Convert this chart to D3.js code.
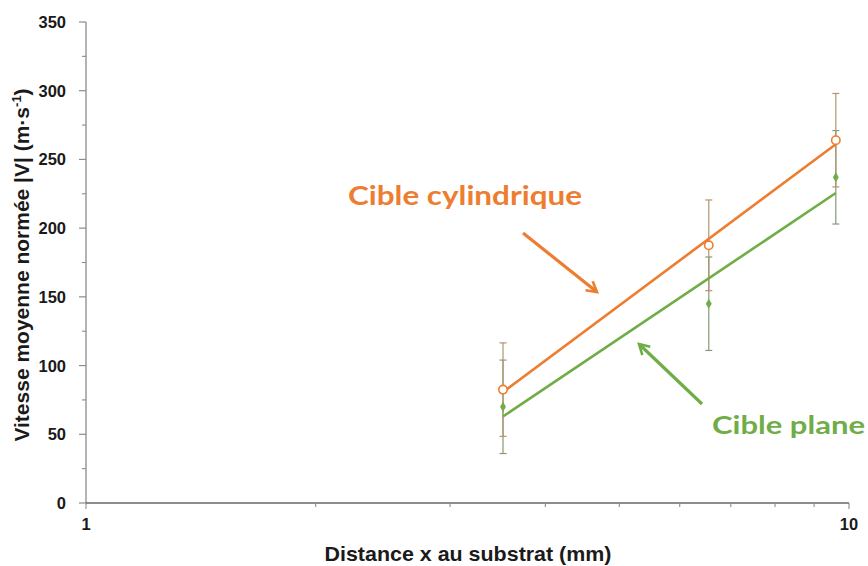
<!DOCTYPE html>
<html>
<head>
<meta charset="utf-8">
<script src="https://cdn.jsdelivr.net/npm/d3@7"></script>
<style>
  html, body { margin: 0; padding: 0; background: #fff; }
  svg { display: block; }
</style>
</head>
<body>
<svg id="chart" width="868" height="566"></svg>
<script>
// Distance to substrate (mm) and normalised mean velocity |V| (m/s)
const distances = [3.52, 6.55, 9.61];
const cylindrique = [82.5, 187.5, 264];
const plane = [70, 145, 237];
const errCylindrique = [34, 33, 34];
const errPlane = [34, 34, 34];
const yTicks = [0, 50, 100, 150, 200, 250, 300, 350];
const xTickLabels = [1, 10];

const orange = "#ED7D31";
const green = "#70AD47";
const orangeErr = "#b39470";
const greenErr = "#879a76";
const axisFont = "Liberation Sans, Arial, sans-serif";

const svg = d3.select("#chart");
const x = d3.scaleLog().domain([1, 10]).range([86, 849]);
const y = d3.scaleLinear().domain([0, 350]).range([503, 22]);

// Y axis: gray line, outward ticks, minor ticks every 25
const yAxis = svg.append("g").attr("transform", "translate(86,0)");
yAxis.append("line").attr("x1", 0).attr("x2", 0).attr("y1", y(350)).attr("y2", y(0))
  .attr("stroke", "#8c8c8c").attr("stroke-width", 1.3);
yAxis.selectAll("line.maj").data(yTicks).join("line").attr("class", "maj")
  .attr("x1", -7).attr("x2", 0).attr("y1", d => y(d)).attr("y2", d => y(d))
  .attr("stroke", "#8c8c8c").attr("stroke-width", 1.2);
yAxis.selectAll("line.min").data(d3.range(25, 350, 50)).join("line").attr("class", "min")
  .attr("x1", -4).attr("x2", 0).attr("y1", d => y(d)).attr("y2", d => y(d))
  .attr("stroke", "#8c8c8c").attr("stroke-width", 1.1);
yAxis.selectAll("text").data(yTicks).join("text")
  .attr("x", -20).attr("y", d => y(d)).attr("dy", "0.36em")
  .attr("text-anchor", "end")
  .attr("font-family", axisFont)
  .attr("font-weight", "bold").attr("font-size", 16.5).attr("fill", "#1a1a1a")
  .text(d => d);

// X axis: log scale with minor ticks at 2..9
const xAxis = svg.append("g").attr("transform", `translate(0,${y(0)})`);
xAxis.append("line").attr("x1", x(1)).attr("x2", x(10)).attr("y1", 0).attr("y2", 0)
  .attr("stroke", "#1a1a1a").attr("stroke-width", 1.2);
xAxis.selectAll("line.tk").data(d3.range(1, 11)).join("line").attr("class", "tk")
  .attr("x1", d => x(d)).attr("x2", d => x(d))
  .attr("y1", 0).attr("y2", d => (d === 1 || d === 10) ? 6 : 4)
  .attr("stroke", "#8c8c8c").attr("stroke-width", 1.1);
xAxis.selectAll("text").data(xTickLabels).join("text")
  .attr("x", d => x(d)).attr("y", 27)
  .attr("text-anchor", "middle")
  .attr("font-family", axisFont)
  .attr("font-weight", "bold").attr("font-size", 16.5).attr("fill", "#1a1a1a")
  .text(d => d);

// Axis titles
svg.append("text").attr("x", 468).attr("y", 561).attr("text-anchor", "middle")
  .attr("font-family", axisFont)
  .attr("font-weight", "bold").attr("font-size", 21).attr("fill", "#1a1a1a")
  .attr("textLength", 287).attr("lengthAdjust", "spacingAndGlyphs")
  .text("Distance x au substrat (mm)");

const yTitle = svg.append("text")
  .attr("transform", "translate(29,265) rotate(-90)")
  .attr("text-anchor", "middle")
  .attr("font-family", axisFont)
  .attr("font-weight", "bold").attr("font-size", 21).attr("fill", "#1a1a1a");
yTitle.append("tspan").text("Vitesse moyenne normée |V| (m·s");
yTitle.append("tspan").attr("dy", -8).attr("font-size", 13).text("-1");
yTitle.append("tspan").attr("dy", 8).text(")");

// Logarithmic trend line (least squares on ln x)
function logFit(xs, ys) {
  const lx = xs.map(Math.log);
  const mx = d3.mean(lx), my = d3.mean(ys);
  const sxy = d3.sum(lx, (v, i) => (v - mx) * (ys[i] - my));
  const sxx = d3.sum(lx, v => (v - mx) ** 2);
  const a = sxy / sxx, b = my - a * mx;
  return v => a * Math.log(v) + b;
}

const series = [
  { vals: plane, err: errPlane, color: green, errColor: greenErr },
  { vals: cylindrique, err: errCylindrique, color: orange, errColor: orangeErr }
];

// Error bars
series.forEach(s => {
  const g = svg.append("g");
  distances.forEach((d, i) => {
    const cx = x(d);
    const lo = y(s.vals[i] - s.err[i]), hi = y(s.vals[i] + s.err[i]);
    g.append("line").attr("x1", cx).attr("x2", cx).attr("y1", lo).attr("y2", hi)
      .attr("stroke", s.errColor).attr("stroke-width", 1.2);
    [lo, hi].forEach(yy => g.append("line")
      .attr("x1", cx - 3.5).attr("x2", cx + 3.5).attr("y1", yy).attr("y2", yy)
      .attr("stroke", s.errColor).attr("stroke-width", 1.2));
  });
});

// Trend lines
series.forEach(s => {
  const f = logFit(distances, s.vals);
  const x0 = d3.min(distances), x1 = d3.max(distances);
  svg.append("line")
    .attr("x1", x(x0)).attr("y1", y(f(x0)))
    .attr("x2", x(x1)).attr("y2", y(f(x1)))
    .attr("stroke", s.color).attr("stroke-width", 2.6);
});

// Markers: green filled diamonds, orange open circles
svg.selectAll("path.dia").data(distances).join("path").attr("class", "dia")
  .attr("d", d3.symbol().type(d3.symbolDiamond).size(30))
  .attr("transform", (d, i) => `translate(${x(d)},${y(plane[i])})`)
  .attr("fill", green);
svg.selectAll("circle.pt").data(distances).join("circle").attr("class", "pt")
  .attr("cx", d => x(d)).attr("cy", (d, i) => y(cylindrique[i])).attr("r", 4.2)
  .attr("fill", "#fff").attr("stroke", orange).attr("stroke-width", 1.6);

// Annotations with arrows
const defs = svg.append("defs");
[["arrO", orange], ["arrG", green]].forEach(([id, c]) => {
  defs.append("marker").attr("id", id).attr("viewBox", "0 0 10 10")
    .attr("refX", 8).attr("refY", 5).attr("markerWidth", 4.5).attr("markerHeight", 4.5)
    .attr("orient", "auto")
    .append("path").attr("d", "M1,1 L8,5 L1,9").attr("fill", "none")
    .attr("stroke", c).attr("stroke-width", 1.8).attr("stroke-linejoin", "miter");
});

svg.append("line").attr("x1", 523).attr("y1", 233).attr("x2", 597).attr("y2", 292)
  .attr("stroke", orange).attr("stroke-width", 3.2).attr("marker-end", "url(#arrO)");
svg.append("line").attr("x1", 702).attr("y1", 404).attr("x2", 639).attr("y2", 344)
  .attr("stroke", green).attr("stroke-width", 3.2).attr("marker-end", "url(#arrG)");

svg.append("text").attr("x", 348).attr("y", 205)
  .attr("font-family", "Lato, Open Sans, sans-serif").attr("font-weight", "bold")
  .attr("font-size", 26).attr("fill", orange)
  .attr("textLength", 234).attr("lengthAdjust", "spacingAndGlyphs")
  .text("Cible cylindrique");
svg.append("text").attr("x", 712).attr("y", 434)
  .attr("font-family", "Lato, Open Sans, sans-serif").attr("font-weight", "bold")
  .attr("font-size", 25).attr("fill", green)
  .attr("textLength", 153).attr("lengthAdjust", "spacingAndGlyphs")
  .text("Cible plane");
</script>
</body>
</html>
